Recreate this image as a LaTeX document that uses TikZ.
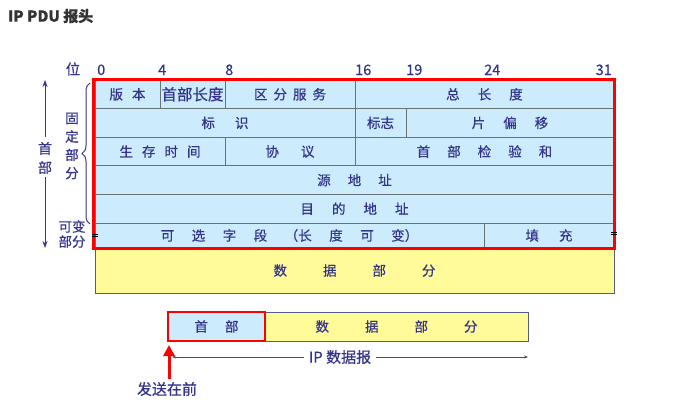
\documentclass[tikz,border=0pt]{standalone}
\usepackage{fontspec}
\setmainfont{Noto Sans CJK SC}[FakeBold=0.5]
\usepackage{tikz}
\usetikzlibrary{arrows.meta,decorations.pathreplacing}
\definecolor{cBlue}{RGB}{204,235,252}
\definecolor{cYellow}{RGB}{255,251,153}
\definecolor{cText}{RGB}{52,52,140}
\definecolor{cLine}{RGB}{105,115,115}
\definecolor{cTitle}{RGB}{51,51,51}
\makeatletter
\newcommand\spreadtxt[2]{%
  \let\spr@sep\relax
  \@tfor\spr@c:=#2\do{\spr@sep\spr@c\def\spr@sep{\hspace{#1}}}}
\makeatother
\tikzset{
  cell/.style={draw=cLine, fill=cBlue, line width=0.8pt, anchor=north west,
               inner sep=0pt, outer sep=0pt, minimum height=28.6pt,
               text=cText, font=\fontsize{13.5}{15}\selectfont},
  datacell/.style={cell, fill=cYellow, draw=cLine!80!blue},
  bitnum/.style={text=cText, font=\fontsize{14.5}{16}\selectfont, inner sep=0pt},
  side/.style={text=cText, align=center, inner sep=0pt},
  frame/.style={draw=red, line width=3pt},
  brc/.style={decorate, decoration={brace, amplitude=8pt}, draw=cText, line width=1pt},
  sidearr/.style={-{Stealth[length=7pt,width=5pt]}, draw=cText, line width=1pt},
  dimarr/.style={{Stealth[length=4pt,width=3pt]}-{Stealth[length=4pt,width=3pt]},
                 draw=black!70, line width=0.6pt},
  sendarr/.style={-{Triangle[length=11pt,width=11pt]}, draw=red, line width=3pt},
  tick/.style={draw=black, line width=0.6pt},
}
\begin{document}
\begin{tikzpicture}[x=1pt, y=-1pt]
  \useasboundingbox (0,0) rectangle (681,407);
  \node[anchor=west, text=cTitle, inner sep=0pt, font=\fontsize{15}{17}\selectfont\bfseries] (title) at (8,16) {IP PDU 报头};

  % bit ruler
  \node[side, font=\fontsize{14.5}{16}\selectfont] (bitlbl) at (73,69) {位};
  \foreach \b/\x in {0/97,4/158,8/225,16/355,19/406,24/484}
    \node[bitnum, anchor=base west] (b\b) at (\x,75) {\b};
  \node[bitnum, anchor=base east] (b31) at (612,75) {31};

  % header rows
  \node[cell, minimum width=65pt] (ver) at (95,80) {\spreadtxt{9pt}{版本}};
  \node[cell, minimum width=65pt, font=\fontsize{15.5}{17}\selectfont] (ihl) at (160,80) {首部长度};
  \node[cell, minimum width=130pt] (tos) at (225,80) {\spreadtxt{6pt}{区分服务}};
  \node[cell, minimum width=259pt] (tlen) at (355,80) {\spreadtxt{18pt}{总长度}};

  \node[cell, minimum width=260pt] (ident) at (95,108.6) {\spreadtxt{20pt}{标识}};
  \node[cell, minimum width=51pt] (flag) at (355,108.6) {标志};
  \node[cell, minimum width=208pt] (frag) at (406,108.6) {\spreadtxt{18pt}{片偏移}};

  \node[cell, minimum width=130pt] (ttl) at (95,137.2) {\spreadtxt{9pt}{生存时间}};
  \node[cell, minimum width=130pt] (proto) at (225,137.2) {\spreadtxt{22pt}{协议}};
  \node[cell, minimum width=259pt] (csum) at (355,137.2) {\spreadtxt{17pt}{首部检验和}};

  \node[cell, minimum width=519pt] (src) at (95,165.8) {\spreadtxt{17pt}{源地址}};
  \node[cell, minimum width=519pt] (dst) at (95,194.4) {\spreadtxt{18pt}{目的地址}};

  \node[cell, minimum width=389pt, minimum height=25pt] (opt) at (95,223) {\spreadtxt{17.5pt}{可选字段{（长}度可{变）}}};
  \node[cell, minimum width=130pt, minimum height=25pt] (pad) at (484,223) {\spreadtxt{20pt}{填充}};

  \node[datacell, minimum width=519pt, minimum height=45pt] (data) at (95,248) {\spreadtxt{36pt}{数据部分}};

  \draw[frame] ([shift={(-1.5pt,1pt)}]ver.north west) rectangle (pad.south east);
  \draw[tick] ([shift={(-3pt,1pt)}]opt.west) -- ++(6pt,0);
  \draw[tick] ([shift={(-3pt,-1pt)}]opt.west) -- ++(6pt,0);
  \draw[tick] ([shift={(-3pt,3pt)}]pad.east) -- ++(6pt,0);
  \draw[tick] ([shift={(-3pt,1pt)}]pad.east) -- ++(6pt,0);

  % left side labels
  \node[side, font=\fontsize{14}{19}\selectfont] (hdrlbl) at (45,158) {首\\部};
  \coordinate (hdrtop) at (45,80);
  \coordinate (hdrbot) at (45,248);
  \draw[sidearr] ([yshift=5pt]hdrlbl.north) -- (hdrtop);
  \draw[sidearr] ([yshift=-3pt]hdrlbl.south) -- (hdrbot);

  \node[side, font=\fontsize{13.5}{18.3}\selectfont] (fixlbl) at (72,146) {固\\定\\部\\分};
  \node[side, font=\fontsize{13.5}{15}\selectfont] (varlbl) at (72,234) {可变\\部分};
  \draw[brc] ([shift={(-5pt,-1pt)}]dst.south west) -- ([shift={(-5pt,-3pt)}]ver.north west);

  % datagram below
  \node[cell, minimum width=97pt, minimum height=29pt] (hdr) at (168,312) {\spreadtxt{17pt}{首部}};
  \node[datacell, minimum width=263pt, minimum height=29pt] (body) at (hdr.north east) {\spreadtxt{36pt}{数据部分}};
  \draw[draw=red, line width=2pt] (hdr.north west) rectangle (hdr.south east);

  \coordinate (dgL) at (172,357);
  \coordinate (dgR) at (528,357);
  \draw[dimarr] (dgL) -- (dgR);
  \node[fill=white, text=cText, inner xsep=5pt, inner ysep=1pt, font=\fontsize{15}{17}\selectfont] (dglbl) at (340,357) {IP 数据报};

  \coordinate (sendtail) at (169,379);
  \draw[sendarr] (sendtail) -- ([shift={(1pt,-4pt)}]hdr.south west);
  \node[side, font=\fontsize{15}{17}\selectfont] (sendlbl) at (167,389) {发送在前};
\end{tikzpicture}
\end{document}
